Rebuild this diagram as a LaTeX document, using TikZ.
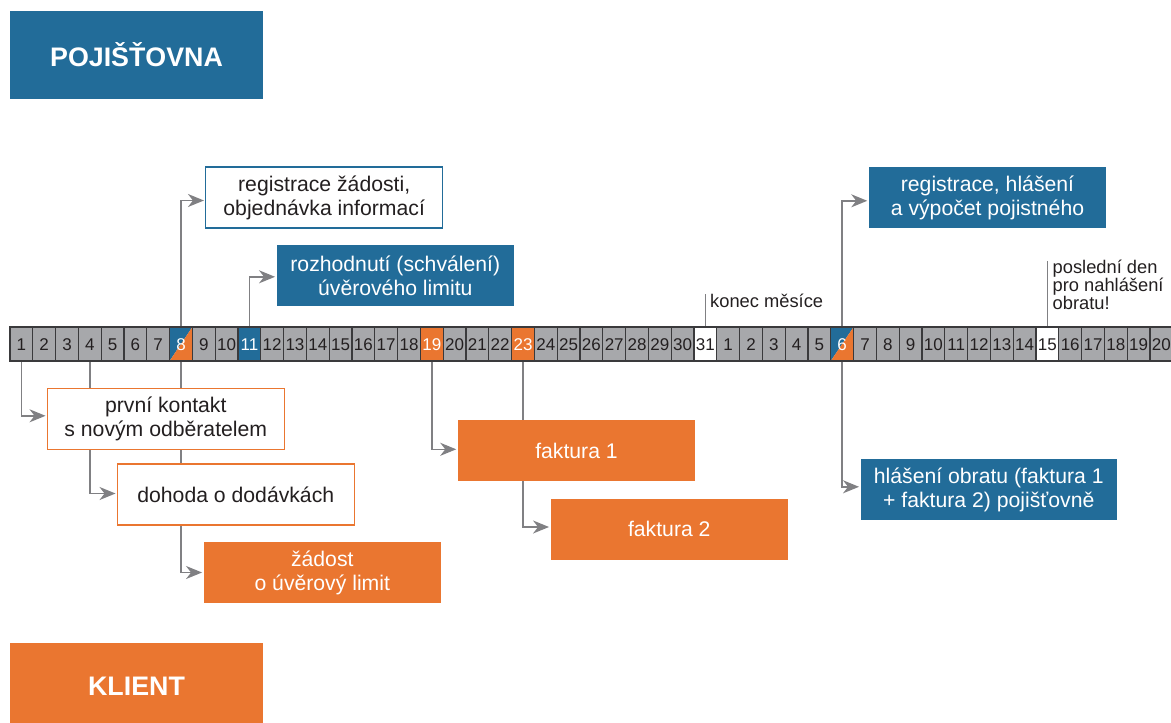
\documentclass[tikz,border=0pt]{standalone}
\usepackage{fontspec}
\setmainfont{Liberation Sans}
\usetikzlibrary{arrows.meta,calc}
\definecolor{blueC}{RGB}{34,108,153}
\definecolor{orangeC}{RGB}{234,118,48}
\definecolor{cellgray}{RGB}{167,168,171}
\definecolor{cellborder}{RGB}{58,58,60}
\definecolor{txt}{RGB}{35,31,32}
\definecolor{arrgray}{RGB}{128,128,131}
\pgfdeclarelayer{bg}
\pgfsetlayers{bg,main}
\begin{document}
\begin{tikzpicture}[x=1pt,y=-1pt,
  daycell/.style={rectangle, draw=cellborder, line width=1.3pt, fill=cellgray,
    minimum width=22.8pt, minimum height=34pt, inner sep=0pt, text=txt,
    font=\fontsize{17}{18}\selectfont, text height=12.2pt, text depth=0pt},
  dayG/.style={},
  dayB/.style={fill=blueC, text=white},
  dayO/.style={fill=orangeC, text=white},
  dayW/.style={fill=white},
  dayS/.style={fill=none, text=white, path picture={
    \fill[blueC] (path picture bounding box.south west) -- (path picture bounding box.north west) -- (path picture bounding box.north east) -- cycle;
    \fill[orangeC] (path picture bounding box.south west) -- (path picture bounding box.north east) -- (path picture bounding box.south east) -- cycle;}},
  box/.style={rectangle, minimum width=237pt, minimum height=61pt, inner sep=0pt,
    align=center, font=\fontsize{21.2}{24}\selectfont, line width=1.5pt},
  wbbox/.style={box, fill=white, draw=blueC, text=txt},
  wobox/.style={box, fill=white, draw=orangeC, text=txt},
  bbox/.style={box, fill=blueC, text=white},
  obox/.style={box, fill=orangeC, text=white},
  head/.style={rectangle, minimum width=253pt, minimum height=88pt, inner sep=0pt,
    font=\fontsize{26.8}{30}\selectfont\bfseries, text=white},
  lbl/.style={font=\fontsize{18.3}{16.8}\selectfont, text=txt, inner sep=0pt, align=left},
  arr/.style={draw=arrgray, line width=1.5pt, -{Stealth[length=16pt,width=13pt,inset=5pt]}, shorten >=1pt},
  tickline/.style={draw=arrgray, line width=1.3pt}
]
\useasboundingbox (0,0) rectangle (1171,723);
\clip (0,0) rectangle (1171,723);

% headers
\node[head, fill=blueC] (poj) at (136.5,55) {POJIŠŤOVNA};
\node[head, fill=orangeC] (kli) at (136.5,686.5) {KLIENT};

% timeline
\foreach \i in {1,...,51}{
  \pgfmathtruncatemacro\d{\i>31 ? \i-31 : \i}
  \def\st{dayG}
  \ifnum\i=8 \def\st{dayS}\fi
  \ifnum\i=37 \def\st{dayS}\fi
  \ifnum\i=11 \def\st{dayB}\fi
  \ifnum\i=19 \def\st{dayO}\fi
  \ifnum\i=23 \def\st{dayO}\fi
  \ifnum\i=31 \def\st{dayW}\fi
  \ifnum\i=46 \def\st{dayW}\fi
  \node[daycell,\st] (c\i) at ({10+(\i-0.5)*22.8},344) {\d};
}

% boxes
\node[wbbox] (reg1) at (324.2,197.5) {registrace žádosti,\\objednávka informací};
\node[bbox] (rozh) at (395.3,275.8) {rozhodnutí (schválení)\\úvěrového limitu};
\node[wobox] (prvni) at (165.8,418.8) {první kontakt\\s novým odběratelem};
\node[wobox] (doh) at (235.8,494.5) {dohoda o dodávkách};
\node[obox] (zad) at (322.3,572.5) {žádost\\o úvěrový limit};
\node[obox] (f1) at (576.5,450.8) {faktura 1};
\node[obox] (f2) at (669.3,529) {faktura 2};
\node[bbox] (reg2) at (987.5,197.8) {registrace, hlášení\\a výpočet pojistného};
\node[bbox, minimum width=256pt] (hlas) at (988.8,489.8) {hlášení obratu (faktura 1\\+ faktura 2) pojišťovně};

% labels
\node[lbl, anchor=north west] (konec) at (710,294) {konec měsíce};
\node[lbl, anchor=north west] (posl) at (1052.5,259.5) {poslední den\\pro nahlášení\\obratu!};

% connectors
\begin{pgfonlayer}{bg}
\draw[arr] (c8.north) |- ([yshift=-3pt]reg1.west);
\draw[arr] (c11.north) |- ([yshift=-1pt]rozh.west);
\draw[arr] (c1.south) |- ([yshift=3pt]prvni.west);
\draw[arr] (c4.south) |- ([yshift=1pt]doh.west);
\draw[arr] (c8.south) |- (zad.west);
\draw[arr] (c19.south) |- ([yshift=1.5pt]f1.west);
\draw[arr] (c23.south) |- ([yshift=2pt]f2.west);
\draw[arr] (c37.north) |- ([yshift=-3pt]reg2.west);
\draw[arr] (c37.south) |- ([yshift=3pt]hlas.west);
\coordinate (k31) at ($(c31.north)+(0,-32)$);
\coordinate (k46) at ($(c46.north)+(0,-65)$);
\draw[tickline] (c31.north) -- (k31);
\draw[tickline] (c46.north) -- (k46);
\end{pgfonlayer}
\end{tikzpicture}
\end{document}
